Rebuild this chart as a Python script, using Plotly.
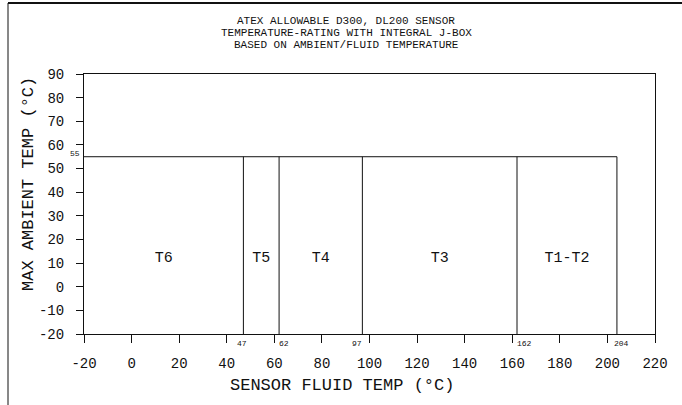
import plotly.graph_objects as go

# ---- data ----
x_min = -20
x_max = 220
y_min = -20
y_max = 90
max_ambient = 55
boundaries = [47, 62, 97, 162, 204]
zone_labels = ["T6", "T5", "T4", "T3", "T1-T2"]
zone_label_y = 12
x_ticks = list(range(-20, 221, 20))
y_ticks = list(range(-20, 91, 10))
title_lines = [
    "ATEX ALLOWABLE D300, DL200 SENSOR",
    "TEMPERATURE-RATING WITH INTEGRAL J-BOX",
    "BASED ON AMBIENT/FLUID TEMPERATURE",
]

FONT = "Liberation Mono"
INK = "#111111"

fig = go.Figure()

# horizontal limit line
fig.add_trace(go.Scatter(
    x=[x_min, boundaries[-1]], y=[max_ambient, max_ambient],
    mode="lines", line=dict(color=INK, width=1), showlegend=False, hoverinfo="skip"))

# vertical boundary lines
for b in boundaries:
    fig.add_trace(go.Scatter(
        x=[b, b], y=[y_min, max_ambient],
        mode="lines", line=dict(color=INK, width=1), showlegend=False, hoverinfo="skip"))

# zone labels
edges = [x_min] + boundaries
mids = [(edges[i] + edges[i + 1]) / 2 for i in range(len(zone_labels))]
fig.add_trace(go.Scatter(
    x=mids, y=[zone_label_y] * len(mids), mode="text", text=zone_labels,
    textfont=dict(family=FONT, size=15, color=INK), showlegend=False, hoverinfo="skip"))

annotations = []
# small boundary value labels below the x axis
shifts = {47: -1, 62: 5, 97: -5, 162: 7, 204: 5}
for b in boundaries:
    annotations.append(dict(
        x=b, y=y_min, xref="x", yref="y", text=str(b), showarrow=False,
        yanchor="top", yshift=-3, xshift=shifts.get(b, 0),
        font=dict(family=FONT, size=8, color=INK)))
# 55 label
annotations.append(dict(
    x=x_min, y=max_ambient, xref="x", yref="y", text=str(max_ambient), showarrow=False,
    xanchor="right", yanchor="middle", xshift=-2, yshift=3,
    font=dict(family=FONT, size=8, color=INK)))

# title lines
title_px = [21, 33, 45]
plot_top, plot_h = 74, 260
plot_left, plot_w = 84, 571
for line, py in zip(title_lines, title_px):
    annotations.append(dict(
        x=(346 - plot_left) / plot_w, y=(plot_top + plot_h - py) / plot_h,
        xref="paper", yref="paper", text=line, showarrow=False,
        xanchor="center", yanchor="middle",
        font=dict(family=FONT, size=11, color=INK)))

# axis titles
annotations.append(dict(
    x=(342 - plot_left) / plot_w, y=(plot_top + plot_h - 385) / plot_h,
    xref="paper", yref="paper", text="SENSOR FLUID TEMP (°C)", showarrow=False,
    xanchor="center", yanchor="middle", font=dict(family=FONT, size=17, color=INK)))
annotations.append(dict(
    x=(28 - plot_left) / plot_w, y=(plot_top + plot_h - 184) / plot_h,
    xref="paper", yref="paper", text="MAX AMBIENT TEMP (°C)", showarrow=False,
    textangle=-90, xanchor="center", yanchor="middle",
    font=dict(family=FONT, size=17, color=INK)))

shapes = [
    # page border lines (left and top)
    dict(type="line", xref="paper", yref="paper",
         x0=(8 - plot_left) / plot_w, x1=(8 - plot_left) / plot_w,
         y0=(plot_top + plot_h - 405) / plot_h, y1=(plot_top + plot_h - 3) / plot_h,
         line=dict(color=INK, width=1)),
    dict(type="line", xref="paper", yref="paper",
         x0=(8 - plot_left) / plot_w, x1=(682 - plot_left) / plot_w,
         y0=(plot_top + plot_h - 3) / plot_h, y1=(plot_top + plot_h - 3) / plot_h,
         line=dict(color=INK, width=2)),
]

fig.update_layout(
    width=682, height=405,
    margin=dict(l=plot_left, r=682 - plot_left - plot_w, t=plot_top, b=405 - plot_top - plot_h),
    paper_bgcolor="white", plot_bgcolor="white",
    showlegend=False,
    annotations=annotations,
    shapes=shapes,
    font=dict(family=FONT, color=INK),
)
fig.update_xaxes(
    range=[x_min, x_max], tickvals=x_ticks, ticktext=[str(v) for v in x_ticks],
    showgrid=False, zeroline=False, showline=True, linecolor=INK, linewidth=1,
    mirror=True, ticks="outside", ticklen=8, tickcolor=INK, tickwidth=1,
    tickfont=dict(family=FONT, size=14, color=INK), ticklabelstandoff=8)
fig.update_yaxes(
    range=[y_min, y_max], tickvals=y_ticks, ticktext=[str(v) for v in y_ticks],
    showgrid=False, zeroline=False, showline=True, linecolor=INK, linewidth=1,
    mirror=True, ticks="outside", ticklen=7, tickcolor=INK, tickwidth=1,
    tickfont=dict(family=FONT, size=14, color=INK), ticklabelstandoff=9)

fig.write_html("out.html")
